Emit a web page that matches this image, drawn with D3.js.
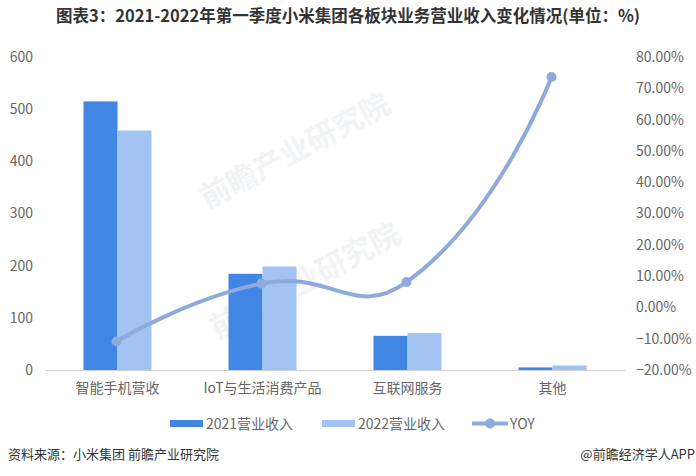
<!DOCTYPE html>
<html lang="zh">
<head>
  <meta charset="UTF-8">
  <script src="https://cdn.jsdelivr.net/npm/d3@7"></script>
  <title>小米集团各板块业务营业收入</title>
  <style>
    body { margin: 0; background: #fff; }
    text { font-family: "Noto Sans CJK SC", "Noto Sans", sans-serif; }
    .tick text { fill: #666; font-size: 14px; }
  </style>
</head>
<body>
  <script>
    // data (亿元, YOY %)
    const categories = ['智能手机营收', 'IoT与生活消费产品', '互联网服务', '其他'];
    const rev2021 = [514.9, 184.5, 65.5, 5.0];
    const rev2022 = [459.1, 198.5, 70.8, 8.7];
    const yoy = [-10.9, 7.6, 8.1, 73.6];
    const leftTicks = [0, 100, 200, 300, 400, 500, 600];
    const rightTicks = [-20, -10, 0, 10, 20, 30, 40, 50, 60, 70, 80];

    const W = 696, H = 476;
    const m = { top: 57, left: 45, right: 71, bottom: 106 };
    const c2021 = '#4286e3', c2022 = '#a3c4f3', cLine = '#8eaadc';

    const svg = d3.select('body').append('svg')
      .attr('width', W).attr('height', H);

    // faint watermarks, kept inside the picture
    const wm = [[300, 160], [310, 290]];
    svg.append('g').selectAll('text').data(wm).enter().append('text')
      .attr('transform', d => `translate(${d[0]},${d[1]}) rotate(-28)`)
      .attr('text-anchor', 'middle')
      .style('font-size', '30px').style('font-weight', 'bold').style('fill', '#f1f3f7')
      .text('前瞻产业研究院');

    // title
    svg.append('text')
      .attr('x', W / 2).attr('y', 22)
      .attr('text-anchor', 'middle')
      .style('font-size', '16.5px').style('font-weight', 'bold').style('fill', '#333')
      .text('图表3：2021-2022年第一季度小米集团各板块业务营业收入变化情况(单位：%)');

    const x0 = d3.scaleBand().domain(categories).range([m.left, W - m.right]);
    const bw = 34;
    const yL = d3.scaleLinear().domain([0, 600]).range([H - m.bottom, m.top]);
    const yR = d3.scaleLinear().domain([-20, 80]).range([H - m.bottom, m.top]);

    // axes
    svg.append('g').attr('transform', `translate(${m.left - 12},0)`)
      .call(d3.axisLeft(yL).tickValues(leftTicks).tickSize(0).tickPadding(0))
      .call(g => g.select('.domain').remove());
    svg.append('g').attr('transform', `translate(${W - m.right + 11},0)`)
      .call(d3.axisRight(yR).tickValues(rightTicks).tickSize(0).tickPadding(0)
        .tickFormat(d => d3.format('.2f')(d) + '%'))
      .call(g => g.select('.domain').remove());

    const xAxis = svg.append('g').attr('transform', `translate(0,${H - m.bottom})`)
      .call(d3.axisBottom(x0).tickSize(0).tickPadding(13));
    xAxis.select('.domain').attr('stroke', '#d0d0d0');

    // bars
    const grp = svg.append('g').selectAll('g').data(categories).enter().append('g')
      .attr('transform', d => `translate(${x0(d) + x0.bandwidth() / 2},0)`);
    grp.append('rect')
      .attr('x', -bw).attr('width', bw)
      .attr('y', (d, i) => yL(rev2021[i]))
      .attr('height', (d, i) => yL(0) - yL(rev2021[i]))
      .attr('fill', c2021);
    grp.append('rect')
      .attr('x', 0).attr('width', bw)
      .attr('y', (d, i) => yL(rev2022[i]))
      .attr('height', (d, i) => yL(0) - yL(rev2022[i]))
      .attr('fill', c2022);

    // YOY line, smoothed with segment-length weighted control points
    const pts = categories.map((d, i) => [x0(d) + x0.bandwidth() / 2 - 1, yR(yoy[i])]);
    function smoothPath(p, s) {
      const cps = p.map((pt, i) => {
        const prev = p[i - 1], next = p[i + 1];
        if (!prev || !next) return [pt, pt];
        const vx = next[0] - prev[0], vy = next[1] - prev[1];
        const l0 = Math.hypot(pt[0] - prev[0], pt[1] - prev[1]);
        const l1 = Math.hypot(next[0] - pt[0], next[1] - pt[1]);
        const r = l1 / (l0 + l1);
        return [[pt[0] - vx * s * (1 - r), pt[1] - vy * s * (1 - r)],
                [pt[0] + vx * s * r, pt[1] + vy * s * r]];
      });
      const path = d3.path();
      path.moveTo(p[0][0], p[0][1]);
      for (let i = 1; i < p.length; i++) {
        const a = cps[i - 1][1], b = cps[i][0];
        path.bezierCurveTo(a[0], a[1], b[0], b[1], p[i][0], p[i][1]);
      }
      return path.toString();
    }
    svg.append('path')
      .attr('d', smoothPath(pts, 0.5))
      .attr('fill', 'none').attr('stroke', cLine).attr('stroke-width', 4);
    svg.selectAll('circle.pt').data(pts).enter().append('circle')
      .attr('class', 'pt')
      .attr('cx', d => d[0]).attr('cy', d => d[1]).attr('r', 5)
      .attr('fill', cLine);

    // legend
    const lg = svg.append('g').style('font-size', '14px').style('fill', '#666');
    lg.append('rect').attr('x', 170).attr('y', 420).attr('width', 33).attr('height', 7).attr('fill', c2021);
    lg.append('text').attr('x', 206).attr('y', 429).text('2021营业收入');
    lg.append('rect').attr('x', 322).attr('y', 420).attr('width', 33).attr('height', 7).attr('fill', c2022);
    lg.append('text').attr('x', 358).attr('y', 429).text('2022营业收入');
    lg.append('line').attr('x1', 472).attr('x2', 508).attr('y1', 423.5).attr('y2', 423.5)
      .attr('stroke', cLine).attr('stroke-width', 4);
    lg.append('circle').attr('cx', 490).attr('cy', 423.5).attr('r', 5).attr('fill', cLine);
    lg.append('text').attr('x', 510).attr('y', 429).text('YOY');

    // footer
    svg.append('text').attr('x', 8).attr('y', 459)
      .style('font-size', '13px').style('fill', '#333')
      .text('资料来源：小米集团 前瞻产业研究院');
    svg.append('text').attr('x', W - 1).attr('y', 459).attr('text-anchor', 'end')
      .style('font-size', '13px').style('fill', '#333')
      .text('@前瞻经济学人APP');
  </script>
</body>
</html>
